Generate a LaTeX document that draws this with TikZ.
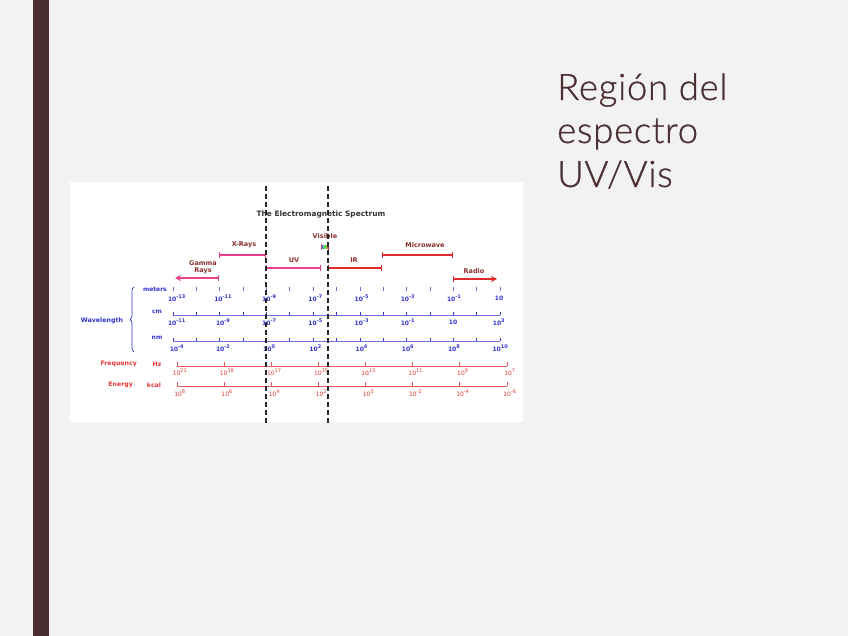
\documentclass[tikz,border=0pt]{standalone}
\usepackage{fontspec}
\setmainfont{Lato}
\newfontfamily\titlefont{Lato Light}[LetterSpace=2,FakeBold=0.8]
\newfontfamily\figfont{DejaVu Sans}
\usetikzlibrary{arrows.meta,decorations.pathreplacing}
\definecolor{bgc}{HTML}{F2F2F0}
\definecolor{barc}{HTML}{4A2C33}
\definecolor{titlec}{HTML}{4A2F35}
\definecolor{pinkc}{HTML}{E8408A}
\definecolor{redc}{HTML}{E02A2A}
\definecolor{bandtxt}{HTML}{8A2E2E}
\definecolor{bluec}{HTML}{3434D4}
\definecolor{blueline}{HTML}{7070E6}
\definecolor{redtxt}{HTML}{E83838}
\definecolor{redline}{HTML}{E85A5A}
\newcommand{\tenp}[1]{10\textsuperscript{#1}}
\begin{document}
\begin{tikzpicture}[x=1pt,y=-1pt,
  titletext/.style={anchor=base west,font=\titlefont\fontsize{36.5}{43}\selectfont,text=titlec,inner sep=0pt},
  bandlabel/.style={font=\figfont\bfseries\fontsize{6.5}{7.2}\selectfont,text=bandtxt,inner sep=0pt,align=center},
  bandbar/.style={line width=1.1pt,{Bar[width=6pt]}-{Bar[width=6pt]}},
  bluelab/.style={font=\figfont\bfseries\fontsize{6}{6.5}\selectfont,text=bluec,inner sep=0pt},
  redlab/.style={font=\figfont\fontsize{6}{6.5}\selectfont,text=redtxt,inner sep=0pt},
  redname/.style={font=\figfont\bfseries\fontsize{6.2}{7}\selectfont,text=redtxt,inner sep=0pt},
  scaleline/.style={line width=0.8pt},
  divider/.style={black!85,line width=1.1pt,dash pattern=on 5pt off 3pt}
]
\useasboundingbox (0,0) rectangle (848,636);
\fill[bgc] (0,0) rectangle (848,636);
\fill[barc] (33,0) rectangle (49,636);

% slide title
\node[titletext] (t1) at (557,100) {Región del};
\node[titletext] (t2) at (557,143) {espectro};
\node[titletext] (t3) at (557,187) {UV/Vis};

% picture background
\fill[white] (70,182) rectangle (523,422);

\node[font=\figfont\bfseries\fontsize{7.4}{8}\selectfont,text=black!80,inner sep=0pt] (ems) at (321,214) {The Electromagnetic Spectrum};

% bands
\node[bandlabel] (lx) at (244,245) {X-Rays};
\node[bandlabel] (lg) at (203,267) {Gamma\\Rays};
\node[bandlabel] (luv) at (294,260) {UV};
\node[bandlabel] (lvis) at (325,236) {Visible};
\node[bandlabel] (lir) at (354,260) {IR};
\node[bandlabel] (lmw) at (425,245) {Microwave};
\node[bandlabel] (lr) at (474,271) {Radio};

\coordinate (xa) at (219,255); \coordinate (xb) at (266,255);
\coordinate (ga) at (175,278); \coordinate (gb) at (219,278);
\coordinate (ua) at (266,268); \coordinate (ub) at (321,268);
\coordinate (ia) at (328,268); \coordinate (ib) at (382,268);
\coordinate (ma) at (382,255); \coordinate (mb) at (453,255);
\coordinate (ra) at (453,279); \coordinate (rb) at (497,279);

\draw[bandbar,pinkc] (xa) -- (xb);
\draw[pinkc,line width=1.1pt,{Stealth[length=6pt,width=6pt]}-{Bar[width=6pt]}] (ga) -- (gb);
\draw[bandbar,pinkc] (ua) -- (ub);
\draw[bandbar,redc] (ia) -- (ib);
\draw[bandbar,redc] (ma) -- (mb);
\draw[redc,line width=1.1pt,{Bar[width=6pt]}-{Stealth[length=6pt,width=6pt]}] (ra) -- (rb);
\shade[left color=blue!70,right color=red!70,middle color=green!70] (321,245.5) rectangle (328,248.5);
\draw[pinkc,line width=1pt] (321,244) -- (321,250);
\draw[redc,line width=1pt] (328,244) -- (328,250);

% wavelength scales
\node[bluelab,anchor=east] (lm) at (167,289) {meters};
\node[bluelab] (lcm) at (157,312) {cm};
\node[bluelab] (lnm) at (157,338) {nm};
\node[font=\figfont\bfseries\fontsize{6.3}{7}\selectfont,text=bluec,inner sep=0pt] (lw) at (102,321) {Wavelength};
\draw[bluec,line width=0.7pt,decorate,decoration={brace,amplitude=4pt}] (134,352) -- (134,287);

\coordinate (cma) at (173,315); \coordinate (cmb) at (500,315);
\coordinate (nma) at (173,341); \coordinate (nmb) at (500,341);
\draw[blueline,scaleline] (cma) -- (cmb);
\draw[blueline,scaleline] (nma) -- (nmb);
\foreach \i in {0,...,14}{
  \draw[blueline,line width=0.7pt] ({173+\i*23.36},287) -- ({173+\i*23.36},291);
  \draw[bluec,line width=0.7pt] ({173+\i*23.36},312) -- ({173+\i*23.36},315);
  \draw[bluec,line width=0.7pt] ({173+\i*23.36},338) -- ({173+\i*23.36},341);
}
\foreach \e [count=\k from 0] in {-13,-11,-9,-7,-5,-3,-1}
  \node[bluelab] (m\k) at ({177+\k*46.2},298) {\tenp{\e}};
\node[bluelab] (m7) at (499,298) {10};
\foreach \e [count=\k from 0] in {-11,-9,-7,-5,-3,-1}
  \node[bluelab] (c\k) at ({177+\k*46.2},322) {\tenp{\e}};
\node[bluelab] (c6) at (453,322) {10};
\node[bluelab] (c7) at (499,322) {\tenp{3}};
\foreach \e [count=\k from 0] in {-4,-2,0,2,4,6,8,10}
  \node[bluelab] (n\k) at ({177+\k*46.2},348) {\tenp{\e}};

% frequency and energy
\node[redname,anchor=east] (lf) at (137,364) {Frequency};
\node[redname] (lhz) at (157,364) {Hz};
\node[redname,anchor=east] (le) at (133,385) {Energy};
\node[redname] (lk) at (154,385) {kcal};
\coordinate (fa) at (177,366); \coordinate (fb) at (507,366);
\coordinate (ea) at (177,386); \coordinate (eb) at (507,386);
\draw[redline,scaleline] (fa) -- (fb);
\draw[redline,scaleline] (ea) -- (eb);
\foreach \i in {0,...,7}{
  \draw[redline,line width=0.7pt] ({177+\i*47.14},362) -- ({177+\i*47.14},366);
  \draw[redline,line width=0.7pt] ({177+\i*47.14},382) -- ({177+\i*47.14},386);
}
\foreach \e [count=\k from 0] in {21,19,17,15,13,11,9,7}
  \node[redlab] (f\k) at ({180+\k*47.14},372) {\tenp{\e}};
\foreach \e [count=\k from 0] in {8,6,4,2,0,-2,-4,-6}
  \node[redlab] (en\k) at ({180+\k*47.14},393) {\tenp{\e}};

% UV/Vis dividers
\coordinate (d1a) at (266,186); \coordinate (d1b) at (266,423);
\coordinate (d2a) at (328,186); \coordinate (d2b) at (328,423);
\draw[divider] (d1a) -- (d1b);
\draw[divider] (d2a) -- (d2b);
\end{tikzpicture}
\end{document}
